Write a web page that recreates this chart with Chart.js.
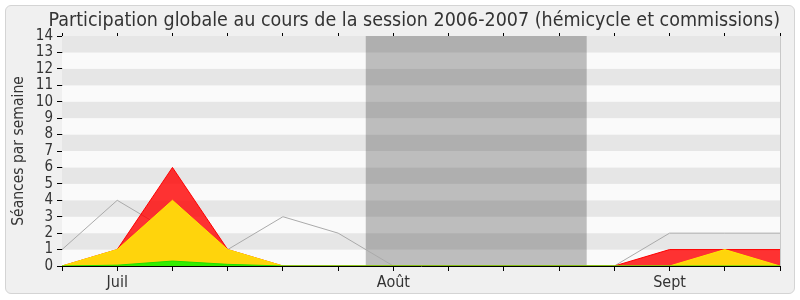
<!DOCTYPE html>
<html>
<head>
<meta charset="utf-8">
<script src="https://cdn.jsdelivr.net/npm/chart.js@4/dist/chart.umd.min.js"></script>
<style>
  html, body { margin: 0; padding: 0; background: #fff; }
  #wrap { position: relative; width: 800px; height: 300px; }
  #frame { position: absolute; left: 5px; top: 5px; width: 788px; height: 287px;
           border: 1px solid #d4d4d4; border-radius: 6px; background: #f0f0f0; }
  canvas { position: absolute; left: 0; top: 0; }
</style>
</head>
<body>
<div id="wrap">
  <div id="frame"></div>
  <canvas id="chart" width="800" height="300"></canvas>
</div>
<script>
// Weeks of the session (labels only on the first week of each month)
const semaines = ['', 'Juil', '', '', '', '', 'Août', '', '', '', '', 'Sept', '', ''];

// Séances par semaine
const presences = [0, 1, 6, 1, 0, 0, 0, 0, 0, 0, 0, 1, 1, 1];
const participations = [0, 1, 4, 1, 0, 0, 0, 0, 0, 0, 0, 0, 1, 0];
const interventions = [0, 0.05, 0.3, 0.1, 0, 0, 0, 0, 0, 0, 0, 0, 0, 0];
const mediane = [1, 4, 2, 1, 3, 2, 0, 0, 0, 0, 0, 2, 2, 2];

// Summer break (in week index units)
const vacances = [5.5, 9.5];

const yMax = 14;
const FONT = "'DejaVu Sans Condensed', 'DejaVu Sans', sans-serif";
const TEXT = '#333';

// striped background + shaded holiday period
const fond = {
  id: 'fond',
  beforeDatasetsDraw(chart) {
    const { ctx, chartArea: a, scales: { x, y } } = chart;
    ctx.save();
    for (let v = 0; v < yMax; v++) {
      const top = y.getPixelForValue(v + 1);
      const bot = y.getPixelForValue(v);
      ctx.fillStyle = v % 2 ? '#e6e6e6' : '#fafafa';
      ctx.fillRect(a.left, top, a.right - a.left, bot - top);
    }
    const x0 = x.getPixelForValue(vacances[0]);
    const x1 = x.getPixelForValue(vacances[1]);
    ctx.fillStyle = 'rgba(50, 50, 50, 0.3)';
    ctx.fillRect(x0, a.top, x1 - x0, a.bottom - a.top);
    ctx.restore();
  },
  afterDatasetsDraw(chart) {
    const { ctx, chartArea: a } = chart;
    ctx.save();
    ctx.strokeStyle = '#c8c8c8';
    ctx.lineWidth = 1;
    ctx.beginPath();
    ctx.moveTo(a.right + 0.5, a.top);
    ctx.lineTo(a.right + 0.5, a.bottom);
    ctx.stroke();
    ctx.restore();
  }
};

const ctx = document.getElementById('chart').getContext('2d');
new Chart(ctx, {
  type: 'line',
  data: {
    labels: semaines,
    datasets: [
      {
        label: 'Interventions',
        data: interventions,
        borderColor: '#22dd00',
        backgroundColor: '#33ee00',
        fill: 'origin',
      },
      {
        label: 'Participations',
        data: participations,
        borderColor: '#ffe600',
        backgroundColor: '#ffd40c',
        fill: 'origin',
      },
      {
        label: 'Présences',
        data: presences,
        borderColor: '#ff0000',
        backgroundColor: 'rgba(255, 0, 0, 0.8)',
        fill: 'origin',
      },
      {
        label: 'Médiane',
        data: mediane,
        borderColor: '#aaaaaa',
        fill: false,
      },
    ],
  },
  options: {
    responsive: false,
    animation: false,
    layout: { padding: { top: 9, right: 20, bottom: 0, left: 0 } },
    elements: {
      line: { tension: 0, borderWidth: 1 },
      point: { radius: 0 },
    },
    plugins: {
      legend: { display: false },
      tooltip: { enabled: false },
      title: {
        display: true,
        text: 'Participation globale au cours de la session 2006-2007 (hémicycle et commissions)',
        align: 'end',
        color: TEXT,
        font: { family: FONT, size: 19.5, weight: 'normal' },
        padding: { top: 0, bottom: 0 },
      },
    },
    scales: {
      x: {
        offset: false,
        grid: { drawOnChartArea: false, tickLength: 5, color: '#000' },
        border: { color: '#000' },
        ticks: { color: TEXT, font: { family: FONT, size: 16 }, padding: 2, autoSkip: false, maxRotation: 0 },
        afterFit: (s) => { s.height = 34; },
      },
      xTop: {
        type: 'category',
        position: 'top',
        labels: semaines,
        offset: false,
        grid: { drawOnChartArea: false, tickLength: 3, color: '#000' },
        border: { display: false },
        ticks: { display: false },
        afterFit: (s) => { s.height = 3.6; },
      },
      y: {
        min: 0,
        max: yMax,
        grid: { drawOnChartArea: false, tickLength: 5, color: '#000' },
        border: { color: '#000' },
        ticks: { stepSize: 1, autoSkip: false, color: TEXT, font: { family: FONT, size: 15, lineHeight: 1 }, padding: 4 },
        title: {
          display: true,
          text: 'Séances par semaine',
          color: TEXT,
          font: { family: FONT, size: 15.5 },
          padding: { top: 10, bottom: 0 },
        },
        afterFit: (s) => { s.width = 62; },
      },
    },
  },
  plugins: [fond],
});
</script>
</body>
</html>
